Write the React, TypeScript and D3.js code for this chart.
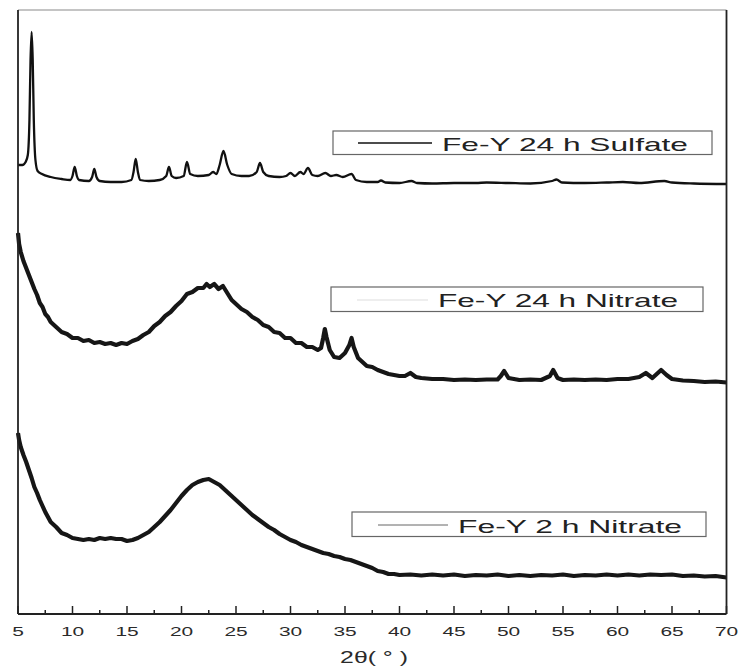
import React from "react";
import * as d3 from "d3";

// XRD patterns of Fe-Y samples, stacked intensities in arbitrary units: [2θ (deg), intensity]
const sulfate24h: [number, number][] = [
  [5.0, 449], [5.4, 449], [5.7, 452], [5.9, 459], [6.05, 494], [6.15, 554], [6.25, 582],
  [6.35, 554], [6.45, 494], [6.6, 454], [6.8, 443], [7.2, 440], [8, 437], [9, 435],
  [9.8, 434], [10.0, 438], [10.2, 447], [10.4, 438], [10.6, 434], [11.5, 433], [11.8, 437],
  [12.0, 445], [12.2, 437], [12.5, 433], [13.5, 432], [14.5, 432], [15.4, 434], [15.6, 442],
  [15.8, 455], [16.0, 442], [16.2, 434], [17, 433], [18, 434], [18.6, 438], [18.85, 447],
  [19.1, 438], [19.5, 436], [20.2, 438], [20.5, 452], [20.8, 440], [21.5, 438], [22.5, 439],
  [22.9, 442], [23.2, 440], [23.5, 449], [23.85, 463], [24.2, 449], [24.6, 440], [25.5, 438],
  [26.2, 438], [26.9, 442], [27.2, 451], [27.5, 442], [28, 438], [29, 437], [29.6, 438],
  [30.0, 441], [30.4, 438], [30.9, 442], [31.2, 440], [31.6, 446], [32.0, 439], [32.5, 438],
  [33.2, 441], [33.7, 438], [34.2, 439], [34.8, 437], [35.6, 440], [36.0, 434], [37.0, 432],
  [38.0, 432], [38.3, 433.5], [38.7, 431.5], [40, 431], [41.1, 433], [41.6, 431], [43, 430.5],
  [45, 431], [47, 431], [48, 431.5], [50, 431], [52, 430.5], [54, 433], [54.4, 434.5],
  [54.9, 431.5], [57, 431], [59, 431.5], [60.5, 432], [62, 431], [64.3, 433], [65, 431.5],
  [67, 430.5], [70, 430],
];

const nitrate24h: [number, number][] = [
  [5.0, 381], [5.1, 370], [5.25, 362], [5.5, 353], [5.75, 346], [6.0, 339], [6.25, 332],
  [6.5, 325], [6.75, 319], [7.0, 311], [7.25, 307], [7.5, 300], [7.75, 297], [8.0, 292],
  [8.5, 287], [9.0, 282], [9.5, 280], [10, 276], [10.5, 276], [11, 273], [11.5, 274],
  [12, 271], [12.5, 272], [13, 270], [13.5, 271], [14, 269], [14.5, 271], [15, 270],
  [15.5, 273], [16, 275], [16.5, 279], [17, 282], [17.5, 288], [18, 292], [18.5, 298],
  [19, 302], [19.5, 308], [20, 313], [20.5, 320], [21, 322], [21.5, 326], [22, 326],
  [22.3, 330], [22.6, 327], [23, 330], [23.4, 325], [23.8, 328], [24.2, 321], [24.6, 314],
  [25, 310], [25.5, 305], [26, 302], [26.5, 297], [27, 294], [27.5, 289], [28, 287],
  [28.5, 282], [29, 281], [29.5, 276], [30, 276], [30.5, 271], [31, 271], [31.5, 267],
  [32, 267], [32.5, 264], [32.8, 266], [33.0, 276], [33.15, 285], [33.3, 277], [33.6, 264],
  [34, 257], [34.5, 256], [35, 261], [35.4, 269], [35.6, 276], [35.8, 267], [36.2, 256],
  [36.6, 252], [37, 248], [37.5, 247], [38, 244], [38.5, 242], [39, 240], [39.5, 239],
  [40, 238], [40.5, 238], [41, 241], [41.5, 237], [42, 236], [43, 235], [44, 235],
  [45, 234], [46, 234.5], [47, 234], [48, 234.5], [49, 234.5], [49.3, 238], [49.6, 243],
  [50, 236], [51, 234], [52, 234.5], [53, 234], [53.8, 238], [54.1, 244], [54.5, 236],
  [55, 234], [56, 234.5], [57, 234], [58, 234.5], [59, 234], [60, 235], [61, 235], [62, 237],
  [62.6, 241], [63.2, 236], [64.0, 244], [64.5, 239], [65, 235], [66, 233.5], [67, 233],
  [68, 232], [69, 232.5], [70, 231.5],
];

const nitrate2h: [number, number][] = [
  [5.0, 181], [5.1, 174], [5.25, 167], [5.5, 159], [5.75, 152], [6.0, 144], [6.25, 136],
  [6.5, 127], [6.75, 121], [7.0, 114], [7.25, 108], [7.5, 102], [7.75, 97], [8.0, 92],
  [8.5, 87], [9.0, 81], [9.5, 79], [10, 76], [10.5, 75], [11, 74], [11.5, 75], [12, 74],
  [12.5, 76], [13, 75], [13.5, 76], [14, 75], [14.5, 75], [15, 73], [15.5, 74], [16, 76],
  [16.5, 79], [17, 82], [17.5, 87], [18, 92], [18.5, 98], [19, 104], [19.5, 111],
  [20, 118], [20.5, 124], [21, 129], [21.5, 132], [22, 134], [22.5, 135], [23, 132],
  [23.5, 129], [24, 124], [24.5, 119], [25, 114], [25.5, 109], [26, 104], [26.5, 99],
  [27, 95], [27.5, 91], [28, 87], [28.5, 84], [29, 80], [29.5, 77], [30, 74], [30.5, 72],
  [31, 69], [31.5, 67], [32, 65], [32.5, 63], [33, 61], [33.5, 60], [34, 58], [34.5, 57],
  [35, 55], [35.5, 54], [36, 52], [36.5, 50], [37, 48], [37.5, 46], [38, 43], [38.5, 42],
  [39, 40], [39.5, 40], [40, 39], [41, 39.5], [42, 38.5], [43, 39.5], [44, 38.5], [45, 39.5],
  [46, 38], [47, 39], [48, 38.5], [49, 39.5], [50, 38], [51, 39], [52, 38], [53, 39],
  [54, 38.5], [55, 39.5], [56, 38], [57, 39], [58, 38.5], [59, 39.5], [60, 38.5], [61, 39.5],
  [62, 38.5], [63, 39.5], [64, 39], [65, 39.5], [66, 38], [67, 38.5], [68, 37.5], [69, 38],
  [70, 36.5],
];

const majorTicks = [5, 10, 15, 20, 25, 30, 35, 40, 45, 50, 55, 60, 65, 70];
const minorTicks = [7.5, 12.5, 17.5, 22.5, 27.5, 32.5, 37.5, 42.5, 47.5, 52.5, 57.5, 62.5, 67.5];
const legendLabels = ["Fe-Y 24 h Sulfate", "Fe-Y 24 h Nitrate", "Fe-Y 2 h Nitrate"];

const W = 742;
const H = 669;
const plot = { left: 18, right: 726.5, top: 10, bottom: 614 };
const FONT = "'Liberation Sans', Arial, sans-serif";

export default function App() {
  const x = d3.scaleLinear().domain([5, 70]).range([plot.left, plot.right]);
  const y = d3.scaleLinear().domain([0, 604]).range([plot.bottom, plot.top]);

  const smooth = d3
    .line<[number, number]>()
    .x((d) => x(d[0]))
    .y((d) => y(d[1]))
    .curve(d3.curveMonotoneX);
  const raw = d3
    .line<[number, number]>()
    .x((d) => x(d[0]))
    .y((d) => y(d[1]))
    .curve(d3.curveLinear);

  const legends = [
    { label: legendLabels[0], box: [333, 131, 712, 154.5], line: [358, 432, 143], lineColor: "#111", lineW: 1.6, text: [442, 151], len: 246 },
    { label: legendLabels[1], box: [331, 287, 703, 311.5], line: [357, 428, 300], lineColor: "#ddd", lineW: 1, text: [438, 307], len: 240 },
    { label: legendLabels[2], box: [352, 512, 706, 536.5], line: [378, 448, 525], lineColor: "#666", lineW: 1, text: [458, 533], len: 224 },
  ];

  return (
    <svg
      width={W}
      height={H}
      style={{ position: "absolute", left: 0, top: 0, background: "#fff" }}
      fontFamily={FONT}
    >
      <rect x={0} y={0} width={W} height={H} fill="#fff" />

      {/* diffraction traces */}
      <path d={raw(nitrate2h) ?? ""} fill="none" stroke="#161616" strokeWidth={4.2} strokeLinejoin="round" />
      <path d={raw(nitrate24h) ?? ""} fill="none" stroke="#161616" strokeWidth={4.2} strokeLinejoin="round" />
      <path d={smooth(sulfate24h) ?? ""} fill="none" stroke="#111" strokeWidth={2.3} strokeLinejoin="round" />

      {/* frame */}
      <line x1={plot.left} x2={plot.right} y1={plot.top} y2={plot.top} stroke="#8a8a8a" strokeWidth={1.2} />
      <line x1={plot.left} x2={plot.left} y1={plot.top} y2={plot.bottom} stroke="#222" strokeWidth={1.8} />
      <line x1={plot.right} x2={plot.right} y1={plot.top} y2={plot.bottom} stroke="#222" strokeWidth={1.8} />
      <line x1={plot.left} x2={plot.right} y1={plot.bottom} y2={plot.bottom} stroke="#222" strokeWidth={1.8} />

      {/* x axis ticks, pointing inward */}
      {majorTicks.map((t) => (
        <g key={`M${t}`}>
          <line x1={x(t)} x2={x(t)} y1={plot.bottom} y2={plot.bottom - 8} stroke="#222" strokeWidth={1.5} />
          <text
            transform={`translate(${x(t)},636) scale(1.55,1)`}
            textAnchor="middle"
            fontSize={13.5}
            fill="#2a2a2a"
          >
            {t}
          </text>
        </g>
      ))}
      {minorTicks.map((t) => (
        <line key={`m${t}`} x1={x(t)} x2={x(t)} y1={plot.bottom} y2={plot.bottom - 4} stroke="#222" strokeWidth={1.5} />
      ))}

      <text transform="translate(374,663) scale(1.55,1)" textAnchor="middle" fontSize={16} fill="#2a2a2a">
        2θ( ° )
      </text>

      {/* legends */}
      {legends.map((l) => (
        <g key={l.label}>
          <rect
            x={l.box[0]}
            y={l.box[1]}
            width={l.box[2] - l.box[0]}
            height={l.box[3] - l.box[1]}
            fill="#fff"
            stroke="#666"
            strokeWidth={1.2}
          />
          <line x1={l.line[0]} x2={l.line[1]} y1={l.line[2]} y2={l.line[2]} stroke={l.lineColor} strokeWidth={l.lineW} />
          <text
            x={l.text[0]}
            y={l.text[1]}
            fontSize={19}
            fill="#222"
            textLength={l.len}
            lengthAdjust="spacingAndGlyphs"
          >
            {l.label}
          </text>
        </g>
      ))}
    </svg>
  );
}
